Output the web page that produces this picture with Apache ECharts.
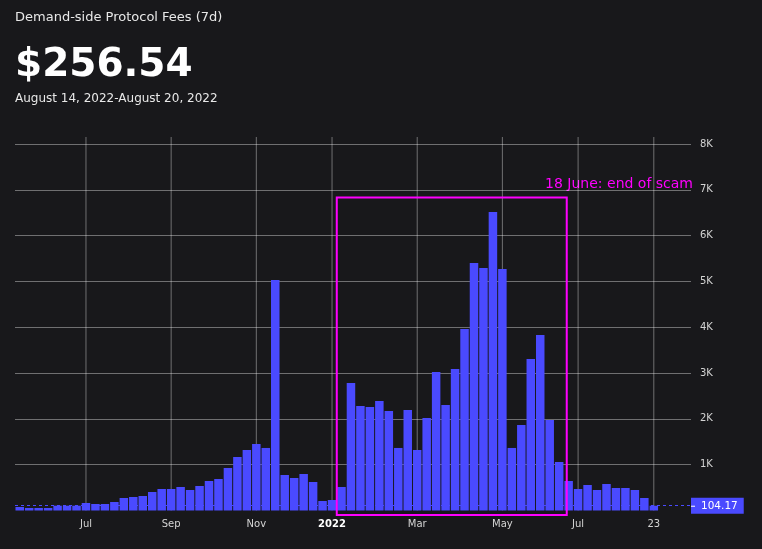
<!DOCTYPE html>
<html><head><meta charset="utf-8">
<script src="https://cdn.jsdelivr.net/npm/echarts@6/dist/echarts.min.js"></script>
<style>html,body{margin:0;padding:0;background:#18181b;}#c{width:762px;height:549px;}</style>
</head><body><div id="c"></div>
<script>
// Weekly demand-side protocol fees (USD), one bar per week, oldest first
const weeklyFees = [
  76, 55, 55, 55, 105, 105, 105, 164, 142, 142,
  186, 273, 295, 317, 404, 469, 469, 513, 448, 535,
  644, 688, 928, 1168, 1321, 1452, 1365, 5033, 775, 710,
  797, 622, 207, 229, 513, 2784, 2282, 2260, 2391, 2172,
  1365, 2194, 1321, 2020, 3024, 2303, 3090, 3963, 5404, 5295,
  6517, 5273, 1365, 1867, 3308, 3832, 1976, 1059, 644, 469,
  557, 448, 579, 491, 491, 448, 273, 104.17
];
// x-axis tick labels and the week index each one sits on
const tickWeekIndex = [7, 16, 25, 33, 42, 51, 59, 67];
const tickLabels = ['Jul', 'Sep', 'Nov', '2022', 'Mar', 'May', 'Jul', '23'];
const boldTick = '2022';
const currentValue = 104.17;
// highlighted period (week-index span and fee span) and its note
const scamPeriod = [33.5, 57.8, -100, 6830];
const scamNote = '18 June: end of scam';
const titleText = 'Demand-side Protocol Fees (7d)';
const bigValue = '$256.54';
const dateRange = 'August 14, 2022-August 20, 2022';

const BAR = '#4a4aff', MAG = '#ff00ff', GRID = 'rgba(255,255,255,0.38)';
const chart = echarts.init(document.getElementById('c'), null, {renderer: 'canvas'});
const labelMap = {};
tickWeekIndex.forEach((w, i) => labelMap[w] = tickLabels[i]);

chart.setOption({
  backgroundColor: '#18181b',
  animation: false,
  textStyle: {fontFamily: 'DejaVu Sans'},
  grid: {left: 15, right: 71, top: 144, bottom: 38.5, containLabel: false},
  graphic: [
    {type: 'text', x: 15, y: 18, style: {text: titleText, fill: '#e8e8e8', font: '13px "DejaVu Sans"', verticalAlign: 'middle', align: 'left'}},
    {type: 'text', x: 15, y: 66, style: {text: bigValue, fill: '#ffffff', font: 'bold 39px "DejaVu Sans"', verticalAlign: 'middle', align: 'left'}},
    {type: 'text', x: 15, y: 99, style: {text: dateRange, fill: '#e8e8e8', font: '12px "DejaVu Sans"', verticalAlign: 'middle', align: 'left'}},
    {type: 'text', x: 693, y: 184, style: {text: scamNote, fill: MAG, font: '14px "DejaVu Sans"', verticalAlign: 'middle', align: 'right'}}
  ],
  xAxis: {
    type: 'value', min: -0.5, max: 70.93,
    axisLine: {show: false}, axisTick: {show: false}, splitLine: {show: false},
    axisLabel: {
      customValues: tickWeekIndex, margin: 9, color: '#d4d4d4', fontSize: 10,
      formatter: v => labelMap[v] === boldTick ? '{b|' + boldTick + '}' : (labelMap[v] || ''),
      rich: {b: {fontWeight: 'bold', color: '#ffffff', fontSize: 10}}
    }
  },
  yAxis: {
    type: 'value', position: 'right', min: 0, max: 8000, interval: 1000,
    axisLine: {show: false}, axisTick: {show: false},
    splitLine: {show: true, showMinLine: false, lineStyle: {color: GRID, width: 1}},
    axisLabel: {margin: 9, color: '#d4d4d4', fontSize: 10, formatter: v => v === 0 ? '' : (v / 1000) + 'K'}
  },
  series: [
    {
      type: 'custom', z: 0, silent: true,
      data: tickWeekIndex.map(w => [w, 0]),
      encode: {x: 0, y: 1},
      renderItem: (params, api) => {
        const cs = params.coordSys;
        const p = api.coord([api.value(0), 0]);
        return {type: 'line', shape: {x1: p[0], y1: cs.y - 7, x2: p[0], y2: cs.y + cs.height}, style: {stroke: GRID, lineWidth: 1}};
      }
    },
    {
      type: 'bar', z: 2, barWidth: 8.5,
      data: weeklyFees.map((v, i) => [i, v]),
      itemStyle: {color: BAR},
      markLine: {
        silent: true, symbol: 'none',
        data: [{yAxis: currentValue}],
        lineStyle: {color: BAR, type: [3, 3], width: 1},
        label: {
          show: true, position: 'end', distance: 0,
          formatter: '{t|}{v|' + currentValue + '}',
          backgroundColor: BAR, padding: [3, 6, 2, 0], color: '#fff',
          rich: {t: {width: 4, height: 1, backgroundColor: '#fff'}, v: {color: '#fff', fontSize: 10.5, padding: [0, 0, 0, 6]}}
        }
      }
    },
    {
      type: 'custom', z: 5, silent: true, clip: false,
      data: [scamPeriod],
      encode: {x: [0, 1], y: [2, 3]},
      renderItem: (params, api) => {
        const a = api.coord([api.value(0), api.value(3)]);
        const b = api.coord([api.value(1), api.value(2)]);
        return {type: 'rect', shape: {x: a[0], y: a[1], width: b[0] - a[0], height: b[1] - a[1]}, style: {fill: 'none', stroke: MAG, lineWidth: 2}};
      }
    }
  ]
});
</script></body></html>
